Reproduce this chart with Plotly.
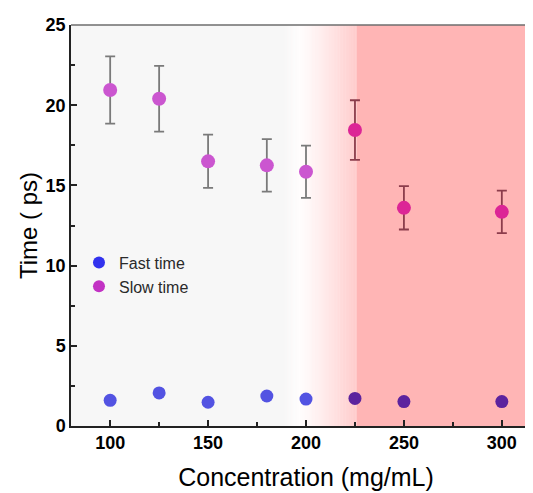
import plotly.graph_objects as go

# datos
conc = [100, 125, 150, 180, 200, 225, 250, 300]
fast_time = [1.6, 2.06, 1.48, 1.87, 1.68, 1.72, 1.52, 1.52]
slow_time = [20.95, 20.4, 16.5, 16.25, 15.85, 18.45, 13.6, 13.35]
slow_err = [2.1, 2.05, 1.66, 1.64, 1.63, 1.86, 1.35, 1.33]

# zona roja (alta concentracion)
fade_start = 188
fade_white = 196
red_start = 226
x_max = 320

fuente = "Arial, Liberation Sans, sans-serif"

def en_rojo(x):
    return x >= red_start - 2


def mezcla(c1, c2, t):
    return "rgb(%d,%d,%d)" % tuple(round(a + (b - a) * t) for a, b in zip(c1, c2))


fig = go.Figure()

# --- Fondo con degradado ---
gris = (247, 247, 247)
blanco = (255, 253, 253)
rosa_claro = (255, 202, 202)
rosa = (255, 181, 181)
shapes = []
pasos = 16
for i in range(pasos):
    x0 = fade_start + (fade_white - fade_start) * i / pasos
    x1 = fade_start + (fade_white - fade_start) * (i + 1) / pasos
    shapes.append(dict(type="rect", xref="x", yref="paper", x0=x0, x1=x1 + 0.2, y0=0, y1=1,
                       fillcolor=mezcla(gris, blanco, i / pasos), line_width=0, layer="below"))
pasos = 40
for i in range(pasos):
    x0 = fade_white + (red_start - fade_white) * i / pasos
    x1 = fade_white + (red_start - fade_white) * (i + 1) / pasos
    shapes.append(dict(type="rect", xref="x", yref="paper", x0=x0, x1=x1 + 0.2, y0=0, y1=1,
                       fillcolor=mezcla(blanco, rosa_claro, (i / pasos) ** 1.2), line_width=0, layer="below"))
shapes.append(dict(type="rect", xref="x", yref="paper", x0=red_start, x1=x_max, y0=0, y1=1,
                   fillcolor="rgb(%d,%d,%d)" % rosa, line_width=0, layer="below"))
# borde superior
shapes.append(dict(type="line", xref="paper", yref="paper", x0=0, x1=1, y0=1, y1=1,
                   line=dict(color="#6e6e6e", width=1.5)))

# --- Slow time (barras de error grises / rojizas) ---
for zona_roja in (False, True):
    idx = [i for i, x in enumerate(conc) if en_rojo(x) == zona_roja]
    fig.add_trace(go.Scatter(
        x=[conc[i] for i in idx], y=[slow_time[i] for i in idx],
        mode="markers",
        error_y=dict(type="data", array=[slow_err[i] for i in idx], visible=True,
                     color="#8c3d4c" if zona_roja else "#7a7a7a", thickness=1.8, width=5),
        marker=dict(size=14, color="#dc2596" if zona_roja else "#cb56d0"),
        showlegend=False, hoverinfo="x+y",
    ))

# --- Fast time ---
fig.add_trace(go.Scatter(
    x=conc, y=fast_time, mode="markers",
    marker=dict(size=13, color=["#5c239e" if en_rojo(x) else "#5353e2" for x in conc]),
    showlegend=False, hoverinfo="x+y",
))

# --- Leyenda ---
fig.add_trace(go.Scatter(x=[None], y=[None], mode="markers", name="Fast time",
                         marker=dict(size=13, color="#3232ee")))
fig.add_trace(go.Scatter(x=[None], y=[None], mode="markers", name="Slow time",
                         marker=dict(size=13, color="#c232c4")))

fig.update_layout(
    width=533, height=493,
    margin=dict(l=63, r=0, t=17, b=75),
    paper_bgcolor="white",
    plot_bgcolor="rgb(247,247,247)",
    shapes=shapes,
    showlegend=True,
    legend=dict(x=0.017, y=0.45, xanchor="left", yanchor="top", bgcolor="rgba(0,0,0,0)",
                font=dict(family=fuente, size=16, color="#2a2a2a"), itemsizing="constant",
                tracegroupgap=0, itemwidth=30),
    font=dict(family=fuente, color="black"),
)

fig.update_xaxes(
    range=[80, x_max], tickvals=[100, 150, 200, 250, 300],
    ticks="inside", ticklen=6, tickwidth=1.5, tickcolor="#222",
    minor=dict(tickvals=[125, 175, 225, 275], ticks="inside", ticklen=4, tickwidth=1.5, tickcolor="#222"),
    showline=True, linecolor="#222", linewidth=1.5, showgrid=False, zeroline=False,
    tickfont=dict(family=fuente, size=18, weight="bold"),
    title=dict(text="Concentration (mg/mL)", font=dict(family=fuente, size=25), standoff=16),
)
fig.update_yaxes(
    range=[0, 25], tickvals=[0, 5, 10, 15, 20, 25],
    ticks="inside", ticklen=6, tickwidth=1.5, tickcolor="#222",
    minor=dict(tickvals=[2.5, 7.5, 12.5, 17.5, 22.5], ticks="inside", ticklen=4, tickwidth=1.5, tickcolor="#222"),
    showline=True, linecolor="#222", linewidth=1.5, showgrid=False, zeroline=False,
    tickfont=dict(family=fuente, size=18, weight="bold"),
    title=dict(text="Time ( ps)", font=dict(family=fuente, size=24), standoff=1),
)

fig.write_html("out.html")
